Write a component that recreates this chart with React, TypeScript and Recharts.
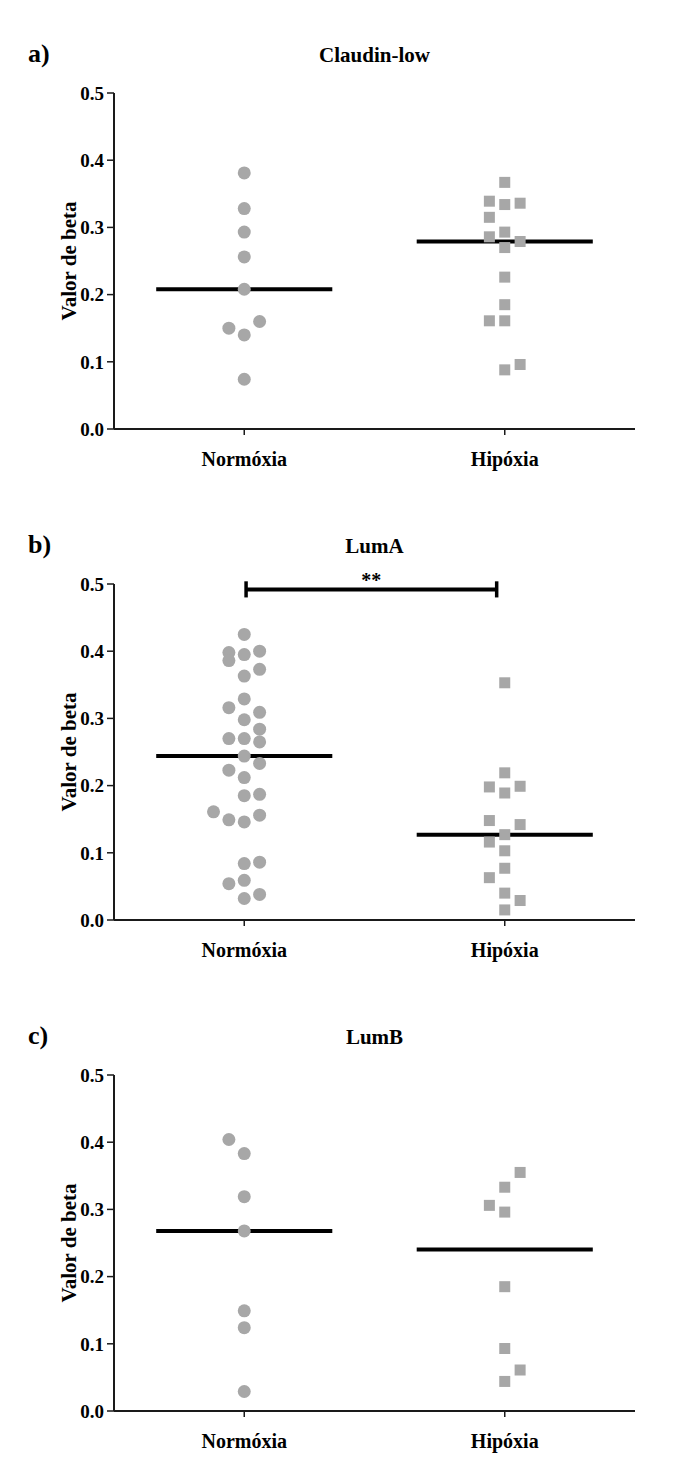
import { ScatterChart, Scatter, XAxis, YAxis, ReferenceLine } from "recharts";

const categories = ["Normóxia", "Hipóxia"];
const yTicks = [0, 0.1, 0.2, 0.3, 0.4, 0.5];

// Claudin-low
const claudinNormoxia = [0.381, 0.328, 0.293, 0.256, 0.208, 0.16, 0.15, 0.14, 0.074];
const claudinNormoxiaSlot = [0, 0, 0, 0, 0, 1, -1, 0, 0];
const claudinHipoxia = [0.367, 0.339, 0.334, 0.336, 0.315, 0.293, 0.286, 0.279, 0.27, 0.226, 0.185, 0.161, 0.161, 0.096, 0.088];
const claudinHipoxiaSlot = [0, -1, 0, 1, -1, 0, -1, 1, 0, 0, 0, -1, 0, 1, 0];

// LumA
const lumANormoxia = [0.425, 0.4, 0.398, 0.395, 0.386, 0.373, 0.363, 0.329, 0.316, 0.309, 0.298, 0.284, 0.27, 0.27, 0.265, 0.244, 0.233, 0.223, 0.212, 0.187, 0.185, 0.161, 0.156, 0.149, 0.146, 0.086, 0.084, 0.059, 0.054, 0.038, 0.032];
const lumANormoxiaSlot = [0, 1, -1, 0, -1, 1, 0, 0, -1, 1, 0, 1, -1, 0, 1, 0, 1, -1, 0, 1, 0, -2, 1, -1, 0, 1, 0, 0, -1, 1, 0];
const lumAHipoxia = [0.353, 0.219, 0.199, 0.198, 0.189, 0.148, 0.142, 0.127, 0.116, 0.103, 0.077, 0.063, 0.04, 0.029, 0.015];
const lumAHipoxiaSlot = [0, 0, 1, -1, 0, -1, 1, 0, -1, 0, 0, -1, 0, 1, 0];

// LumB
const lumBNormoxia = [0.404, 0.383, 0.319, 0.268, 0.149, 0.124, 0.029];
const lumBNormoxiaSlot = [-1, 0, 0, 0, 0, 0, 0];
const lumBHipoxia = [0.355, 0.333, 0.306, 0.296, 0.185, 0.093, 0.061, 0.044];
const lumBHipoxiaSlot = [1, 0, -1, 0, 0, 0, 1, 0];

const JITTER = 0.059;
const HALF_LINE = 0.338;
const FONT = '"Liberation Serif", "Times New Roman", serif';
const AXIS = "#1a1a1a";
const DOT = "#a7a7a7";

function toPoints(values: number[], slots: number[], group: number) {
  return values.map((v, i) => ({ x: group + 0.5 + slots[i] * JITTER, y: v }));
}

function median(values: number[]) {
  const s = [...values].sort((a, b) => a - b);
  const m = Math.floor(s.length / 2);
  return s.length % 2 ? s[m] : (s[m - 1] + s[m]) / 2;
}

const circleShape = (p: any) => <circle cx={p.cx} cy={p.cy} r={6.5} fill={DOT} />;
const squareShape = (p: any) => <rect x={p.cx - 5.5} y={p.cy - 5.5} width={11} height={11} fill={DOT} />;

const YLabel = (props: any) => {
  const vb = props.viewBox;
  const x = vb.x + 76;
  const y = vb.y + vb.height / 2;
  return (
    <text x={x} y={y} transform={`rotate(-90, ${x}, ${y})`} textAnchor="middle"
      fontFamily={FONT} fontWeight="bold" fontSize={21} fill="#000">
      Valor de beta
    </text>
  );
};

function Panel({ letter, title, normoxia, normoxiaSlot, hipoxia, hipoxiaSlot, sig }: any) {
  const groups = [
    { values: normoxia, slots: normoxiaSlot, shape: circleShape },
    { values: hipoxia, slots: hipoxiaSlot, shape: squareShape },
  ];
  return (
    <div style={{ position: "relative", width: 700, height: 491 }}>
      <ScatterChart width={700} height={491} margin={{ top: 93, right: 65, bottom: 12, left: 0 }}>
        <XAxis type="number" dataKey="x" domain={[0, 2]} ticks={[0.5, 1.5]}
          tickFormatter={(v: number) => categories[Math.floor(v)]} height={50}
          axisLine={{ stroke: AXIS, strokeWidth: 2 }} tickLine={{ stroke: AXIS, strokeWidth: 1.5 }}
          tickSize={6} tickMargin={17}
          tick={{ fontFamily: FONT, fontWeight: "bold", fontSize: 20, fill: "#000" }} />
        <YAxis type="number" dataKey="y" domain={[0, 0.5]} ticks={yTicks} width={114}
          tickFormatter={(v: number) => v.toFixed(1)}
          axisLine={{ stroke: AXIS, strokeWidth: 2 }} tickLine={{ stroke: AXIS, strokeWidth: 1.5 }}
          tickSize={7} tickMargin={3}
          tick={{ fontFamily: FONT, fontWeight: "bold", fontSize: 19, fill: "#000" }}
          label={{ content: YLabel }} />
        {groups.map((g, i) => (
          <Scatter key={"s" + i} data={toPoints(g.values, g.slots, i)} shape={g.shape} isAnimationActive={false} />
        ))}
        {groups.map((g, i) => {
          const m = median(g.values);
          return (
            <ReferenceLine key={"m" + i} segment={[{ x: i + 0.5 - HALF_LINE, y: m }, { x: i + 0.5 + HALF_LINE, y: m }]}
              stroke="#000" strokeWidth={4} />
          );
        })}
        {sig && (
          <ReferenceLine segment={[{ x: sig.from, y: sig.y }, { x: sig.to, y: sig.y }]} stroke="#000" strokeWidth={4}
            ifOverflow="visible"
            label={{ value: sig.text, position: "top", offset: 2, fontFamily: FONT, fontWeight: "bold", fontSize: 20, fill: "#000" }} />
        )}
        {sig && (
          <ReferenceLine segment={[{ x: sig.from, y: sig.capLow }, { x: sig.from, y: sig.capHigh }]}
            stroke="#000" strokeWidth={3.5} ifOverflow="visible" />
        )}
        {sig && (
          <ReferenceLine segment={[{ x: sig.to, y: sig.capLow }, { x: sig.to, y: sig.capHigh }]}
            stroke="#000" strokeWidth={3.5} ifOverflow="visible" />
        )}
      </ScatterChart>
      <svg width={700} height={80} style={{ position: "absolute", left: 0, top: 0, pointerEvents: "none" }}>
        <text x={28} y={62} fontFamily={FONT} fontWeight="bold" fontSize={26} fill="#000">{letter}</text>
        <text x={374.5} y={62} textAnchor="middle" fontFamily={FONT} fontWeight="bold" fontSize={21} fill="#000">{title}</text>
      </svg>
    </div>
  );
}

export default function App() {
  return (
    <div style={{ position: "absolute", left: 0, top: 0, width: 700, height: 1481, background: "#fff" }}>
      <Panel letter="a)" title="Claudin-low" normoxia={claudinNormoxia} normoxiaSlot={claudinNormoxiaSlot}
        hipoxia={claudinHipoxia} hipoxiaSlot={claudinHipoxiaSlot} />
      <Panel letter="b)" title="LumA" normoxia={lumANormoxia} normoxiaSlot={lumANormoxiaSlot}
        hipoxia={lumAHipoxia} hipoxiaSlot={lumAHipoxiaSlot}
        sig={{ from: 0.507, to: 1.469, y: 0.492, capLow: 0.48, capHigh: 0.504, text: "**" }} />
      <Panel letter="c)" title="LumB" normoxia={lumBNormoxia} normoxiaSlot={lumBNormoxiaSlot}
        hipoxia={lumBHipoxia} hipoxiaSlot={lumBHipoxiaSlot} />
    </div>
  );
}
